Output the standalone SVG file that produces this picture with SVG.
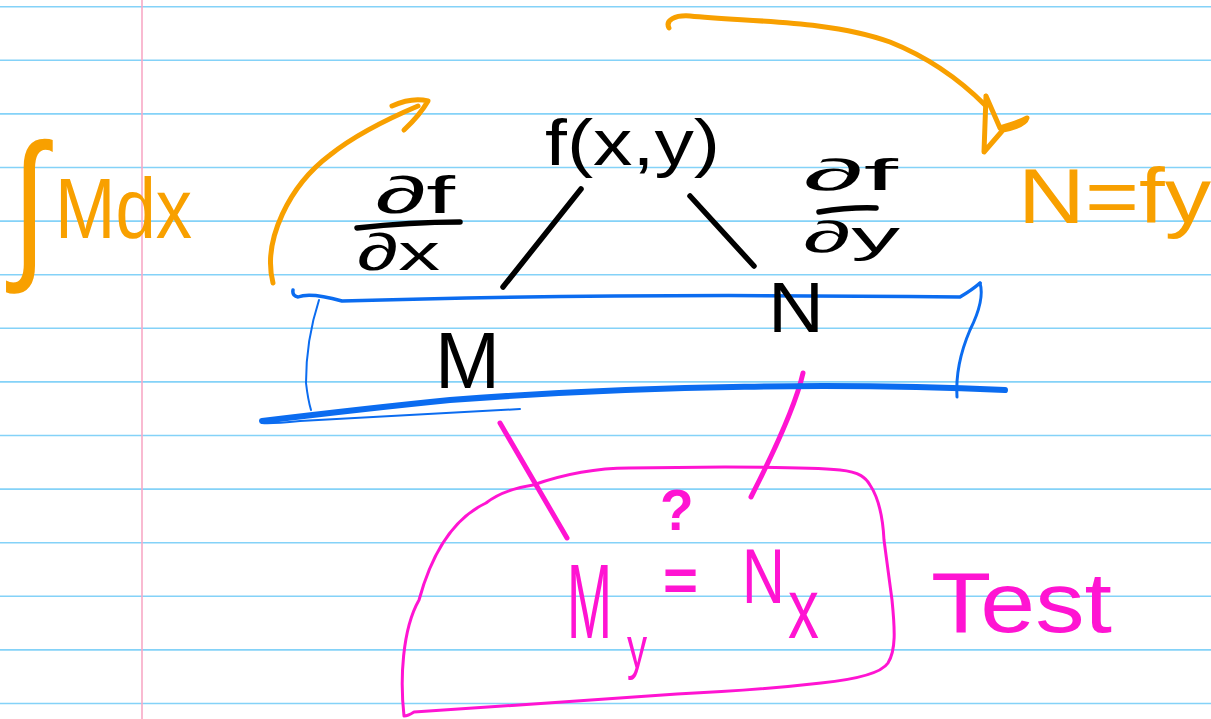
<svg xmlns="http://www.w3.org/2000/svg" width="1211" height="719" viewBox="0 0 1211 719">
<style>
.rule{stroke:#84d2f8;stroke-width:1.6}
.margin{stroke:#f8a9c6;stroke-width:1.6}
.o{fill:#f8a000;font-family:"Liberation Sans",Arial,sans-serif}
.k{fill:#000;font-family:"Liberation Sans",Arial,sans-serif}
.m{fill:#ff14d2;font-family:"Liberation Sans",Arial,sans-serif}
.os{fill:none;stroke:#f8a000;stroke-width:5;stroke-linecap:round;stroke-linejoin:round}
.ks{fill:none;stroke:#000;stroke-width:5.5;stroke-linecap:round}
.bs{fill:none;stroke:#0b6cf0;stroke-linecap:round;stroke-linejoin:round}
.ms{fill:none;stroke:#ff14d2;stroke-linecap:round;stroke-linejoin:round}
</style>
<rect width="1211" height="719" fill="#fff"/>
<g id="paper">
<path class="rule" d="M0 6.7H1211M0 60.3H1211M0 113.9H1211M0 167.5H1211M0 221.1H1211M0 274.7H1211M0 328.3H1211M0 381.9H1211M0 435.5H1211M0 489.1H1211M0 542.7H1211M0 596.3H1211M0 649.9H1211M0 703.5H1211"/>
<path class="margin" d="M142 0V719"/>
</g>
<g id="connectors">
<path class="os" d="M273,283 C262,240 290,185 330,155 C355,135 385,120 418,106"/>
<path class="os" d="M392,106 Q412,97 428,101 Q420,115 404,130"/>
<path class="os" stroke-width="5.5" d="M669,28 C665,20 675,15 690,16 C750,22 830,20 890,42 C930,58 960,80 985,105"/>
<path class="os" d="M986,96 L984,152 L1003,130 Q1025,126 1027,118 Q1020,122 1000,128 L986,96"/>
<path class="ks" d="M581,189 L503,287"/>
<path class="ks" d="M690,196 L754,266"/>
<path class="ms" stroke-width="5" d="M500,423 L567,538"/>
<path class="ms" stroke-width="5" d="M803,373 C797,400 780,440 751,497"/>
</g>
<g id="node-integral">
<text class="o" transform="translate(12,259) scale(0.9,1.17)" font-size="140">∫</text>
<text class="o" x="55" y="238" font-size="85" textLength="137" lengthAdjust="spacingAndGlyphs">Mdx</text>
</g>
<g id="node-f">
<text class="k" x="545" y="165" font-size="64" textLength="175" lengthAdjust="spacingAndGlyphs">f(x,y)</text>
</g>
<g id="node-dfdx">
<text class="k" x="375" y="213" font-size="52" textLength="80" lengthAdjust="spacingAndGlyphs">∂f</text>
<path class="ks" stroke-width="4" d="M357,228 Q410,222 460,222"/>
<text class="k" x="357" y="270" font-size="52" textLength="83" lengthAdjust="spacingAndGlyphs">∂x</text>
</g>
<g id="node-dfdy">
<text class="k" x="803" y="190" font-size="44" textLength="95" lengthAdjust="spacingAndGlyphs">∂f</text>
<path class="ks" stroke-width="3.5" d="M819,212 Q850,207 876,208"/>
<text class="k" x="803" y="252" font-size="44" textLength="97" lengthAdjust="spacingAndGlyphs">∂y</text>
</g>
<g id="node-nfy">
<text class="o" x="1018" y="223" font-size="78" textLength="193" lengthAdjust="spacingAndGlyphs">N=fy</text>
</g>
<g id="node-mn">
<path class="bs" stroke-width="3.5" d="M293,290 Q292,296 298,297 Q310,292 342,301 C500,296 700,294 960,297 Q972,290 980,283"/>
<path class="bs" stroke-width="3" d="M980,283 Q985,300 970,330 Q955,365 957,397"/>
<path class="bs" stroke-width="2" d="M319,300 Q306,340 306,383 Q308,400 311,410"/>
<path class="bs" stroke-width="6" d="M1005,390 C850,383 650,385 450,400 C380,407 320,414 262,421"/>
<path class="bs" stroke-width="2" d="M262,423 Q270,424 300,421 L520,409"/>
<text class="k" x="435" y="388" font-size="80" textLength="65" lengthAdjust="spacingAndGlyphs">M</text>
<text class="k" x="768" y="332" font-size="70" textLength="56" lengthAdjust="spacingAndGlyphs">N</text>
</g>
<g id="node-test">
<path class="ms" stroke-width="3" d="M414,712 Q408,716 404,716 C400,680 402,630 419,600 C430,560 450,520 486,503 C500,492 520,487 533,485 C570,472 600,468 629,468 L725,467 C780,467 820,468 840,470 C860,472 866,478 870,485 C880,500 883,520 884,540 L892,600 C895,630 896,650 888,663 C880,675 850,680 821,683 C760,690 700,693 677,694 C600,700 500,706 414,712"/>
<text class="m" transform="translate(567,638) scale(0.51,1)" font-size="106">M</text>
<text class="m" transform="translate(627,668) scale(0.67,1)" font-size="60">y</text>
<text class="m" transform="translate(660,530) scale(0.95,1)" font-size="58" font-weight="bold">?</text>
<text class="m" transform="translate(663,600) scale(1,1)" font-size="60" font-weight="bold">=</text>
<text class="m" transform="translate(742,603) scale(0.77,1)" font-size="77">N</text>
<text class="m" transform="translate(788,638) scale(0.72,1)" font-size="86">x</text>
<text class="m" x="931" y="632" font-size="86" textLength="181" lengthAdjust="spacingAndGlyphs">Test</text>
</g>
</svg>
